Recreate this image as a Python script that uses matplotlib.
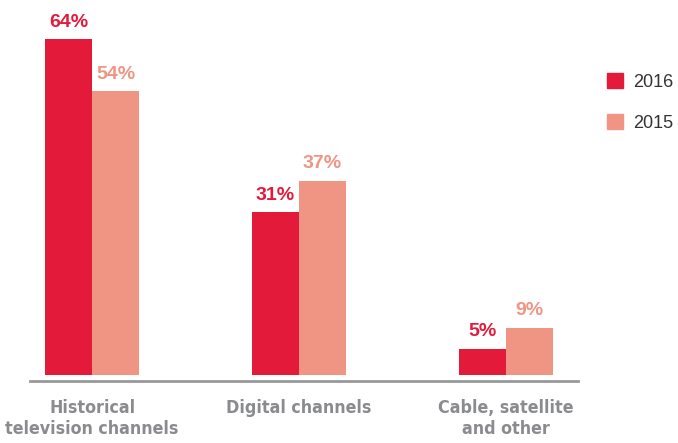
import numpy as np
import matplotlib
matplotlib.use('Agg')
import matplotlib.pyplot as plt
from matplotlib.patches import Patch

categories = ['Historical\ntelevision channels', 'Digital channels', 'Cable, satellite\nand other']
vals_2016 = [64, 31, 5]
vals_2015 = [54, 37, 9]
series_names = ['2016', '2015']

red = '#e31a3a'
salmon = '#f09483'
gray_text = '#8a8b8e'

plt.rcParams['font.family'] = ['Liberation Sans', 'DejaVu Sans']

fig = plt.figure(figsize=(6.78, 4.43), dpi=100)
ax = fig.add_axes([30/678, 1 - 375/443, 548/678, 365/443])

x = np.arange(len(categories))
w = 0.227
b1 = ax.bar(x - w/2, vals_2016, w, color=red)
b2 = ax.bar(x + w/2, vals_2015, w, color=salmon)

# percentage labels above each bar
for bars, col in ((b1, red), (b2, salmon)):
    for r in bars:
        ax.annotate(f'{int(r.get_height())}%', (r.get_x() + r.get_width()/2, r.get_height()),
                    xytext=(0, 6), textcoords='offset points', ha='center', va='bottom',
                    fontsize=14, fontweight='bold', color=col)

ax.set_xlim(-0.30, 2.348)
ax.set_ylim(0, 69.5)
ax.set_yticks([])
for s in ['top', 'right', 'left']:
    ax.spines[s].set_visible(False)
ax.spines['bottom'].set_position(('outward', 4.5))
ax.spines['bottom'].set_color('#999999')
ax.spines['bottom'].set_linewidth(2)

ax.set_xticks(x)
ax.set_xticklabels(categories, family=['DejaVu Sans'], fontstretch='condensed',
                   fontsize=12.8, fontweight='bold', color=gray_text, linespacing=1.2, va='top')
ax.tick_params(axis='x', length=0, pad=13)

handles = [Patch(color=red), Patch(color=salmon)]
fig.legend(handles, series_names, loc='upper left', bbox_to_anchor=(607/678, 1 - 73/443),
           frameon=False, borderpad=0, borderaxespad=0, handlelength=0.9, handleheight=0.9,
           labelspacing=1.3, handletextpad=0.55, fontsize=13, labelcolor='#333333')

fig.savefig('out.png', dpi=100)
